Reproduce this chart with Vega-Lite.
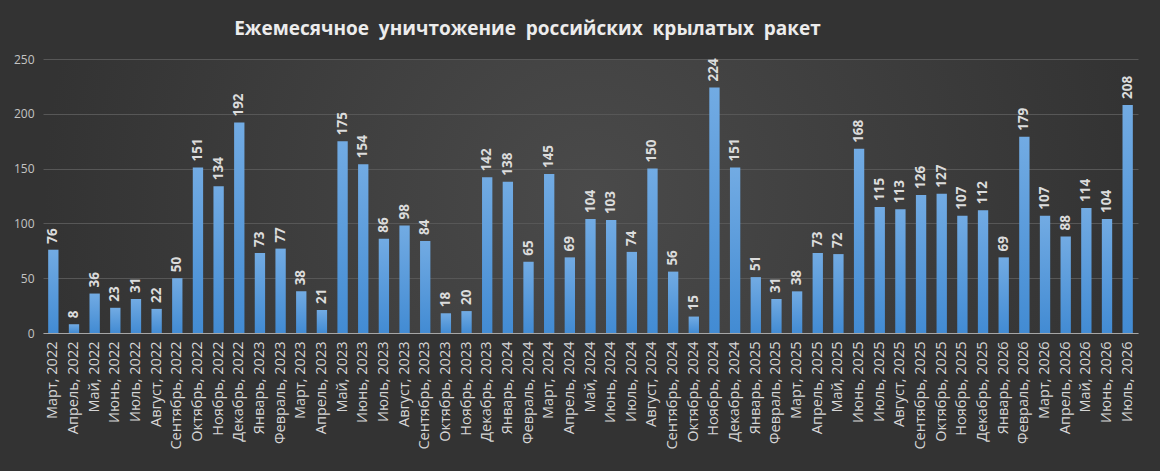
{
  "$schema": "https://vega.github.io/schema/vega-lite/v6.json",
  "autosize": {"type": "none"},
  "width": 1095,
  "height": 274,
  "padding": {"left": 43, "top": 59, "right": 22, "bottom": 138},
  "background": "#333333",
  "title": {
    "text": "Ежемесячное\u00a0 уничтожение\u00a0 российских\u00a0 крылатых\u00a0 ракет",
    "anchor": "middle",
    "dx": -63,
    "offset": 14,
    "font": "Open Sans",
    "fontSize": 19,
    "fontWeight": "bold",
    "color": "#ececec"
  },
  "config": {
    "view": {
      "stroke": null,
      "fill": {
        "gradient": "radial",
        "x1": 0.5, "y1": 0.5, "r1": 0,
        "x2": 0.5, "y2": 0.5, "r2": 0.5,
        "stops": [
          {"offset": 0, "color": "#4a4a4a"},
          {"offset": 1, "color": "#333333"}
        ]
      }
    },
    "axis": {"labelFont": "Open Sans", "titleFont": "Open Sans"}
  },
  "data": {
    "values": [
      {"m": "Март, 2022", "v": 76},
      {"m": "Апрель, 2022", "v": 8},
      {"m": "Май, 2022", "v": 36},
      {"m": "Июнь, 2022", "v": 23},
      {"m": "Июль, 2022", "v": 31},
      {"m": "Август, 2022", "v": 22},
      {"m": "Сентябрь, 2022", "v": 50},
      {"m": "Октябрь, 2022", "v": 151},
      {"m": "Ноябрь, 2022", "v": 134},
      {"m": "Декабрь, 2022", "v": 192},
      {"m": "Январь, 2023", "v": 73},
      {"m": "Февраль, 2023", "v": 77},
      {"m": "Март, 2023", "v": 38},
      {"m": "Апрель, 2023", "v": 21},
      {"m": "Май, 2023", "v": 175},
      {"m": "Июнь, 2023", "v": 154},
      {"m": "Июль, 2023", "v": 86},
      {"m": "Август, 2023", "v": 98},
      {"m": "Сентябрь, 2023", "v": 84},
      {"m": "Октябрь, 2023", "v": 18},
      {"m": "Ноябрь, 2023", "v": 20},
      {"m": "Декабрь, 2023", "v": 142},
      {"m": "Январь, 2024", "v": 138},
      {"m": "Февраль, 2024", "v": 65},
      {"m": "Март, 2024", "v": 145},
      {"m": "Апрель, 2024", "v": 69},
      {"m": "Май, 2024", "v": 104},
      {"m": "Июнь, 2024", "v": 103},
      {"m": "Июль, 2024", "v": 74},
      {"m": "Август, 2024", "v": 150},
      {"m": "Сентябрь, 2024", "v": 56},
      {"m": "Октябрь, 2024", "v": 15},
      {"m": "Ноябрь, 2024", "v": 224},
      {"m": "Декабрь, 2024", "v": 151},
      {"m": "Январь, 2025", "v": 51},
      {"m": "Февраль, 2025", "v": 31},
      {"m": "Март, 2025", "v": 38},
      {"m": "Апрель, 2025", "v": 73},
      {"m": "Май, 2025", "v": 72},
      {"m": "Июнь, 2025", "v": 168},
      {"m": "Июль, 2025", "v": 115},
      {"m": "Август, 2025", "v": 113},
      {"m": "Сентябрь, 2025", "v": 126},
      {"m": "Октябрь, 2025", "v": 127},
      {"m": "Ноябрь, 2025", "v": 107},
      {"m": "Декабрь, 2025", "v": 112},
      {"m": "Январь, 2026", "v": 69},
      {"m": "Февраль, 2026", "v": 179},
      {"m": "Март, 2026", "v": 107},
      {"m": "Апрель, 2026", "v": 88},
      {"m": "Май, 2026", "v": 114},
      {"m": "Июнь, 2026", "v": 104},
      {"m": "Июль, 2026", "v": 208}
    ]
  },
  "encoding": {
    "x": {
      "field": "m",
      "type": "nominal",
      "sort": null,
      "title": null,
      "scale": {"paddingInner": 0.5, "paddingOuter": 0.25},
      "axis": {
        "labelAngle": 270,
        "labelAlign": "right",
        "labelBaseline": "middle",
        "labelColor": "#d6d6d6",
        "labelFontSize": 14.5,
        "labelPadding": 8,
        "ticks": false,
        "domainColor": "#a6a6a6",
        "domainWidth": 1
      }
    },
    "y": {
      "field": "v",
      "type": "quantitative",
      "title": null,
      "scale": {"domain": [0, 250]},
      "axis": {
        "values": [0, 50, 100, 150, 200, 250],
        "labelColor": "#c4c4c4",
        "labelFontSize": 12,
        "labelPadding": 9,
        "ticks": false,
        "domain": false,
        "gridColor": "#575757",
        "gridWidth": 1
      }
    }
  },
  "layer": [
    {
      "mark": {
        "type": "bar",
        "color": {
          "gradient": "linear",
          "x1": 0, "y1": 0, "x2": 0, "y2": 1,
          "stops": [
            {"offset": 0, "color": "#72abe3"},
            {"offset": 1, "color": "#428bd3"}
          ]
        }
      }
    },
    {
      "mark": {
        "type": "text",
        "angle": 270,
        "align": "left",
        "baseline": "middle",
        "dx": 6,
        "font": "Open Sans",
        "fontSize": 13.5,
        "fontWeight": "bold",
        "color": "#dcdcdc"
      },
      "encoding": {"text": {"field": "v", "type": "quantitative"}}
    }
  ]
}
